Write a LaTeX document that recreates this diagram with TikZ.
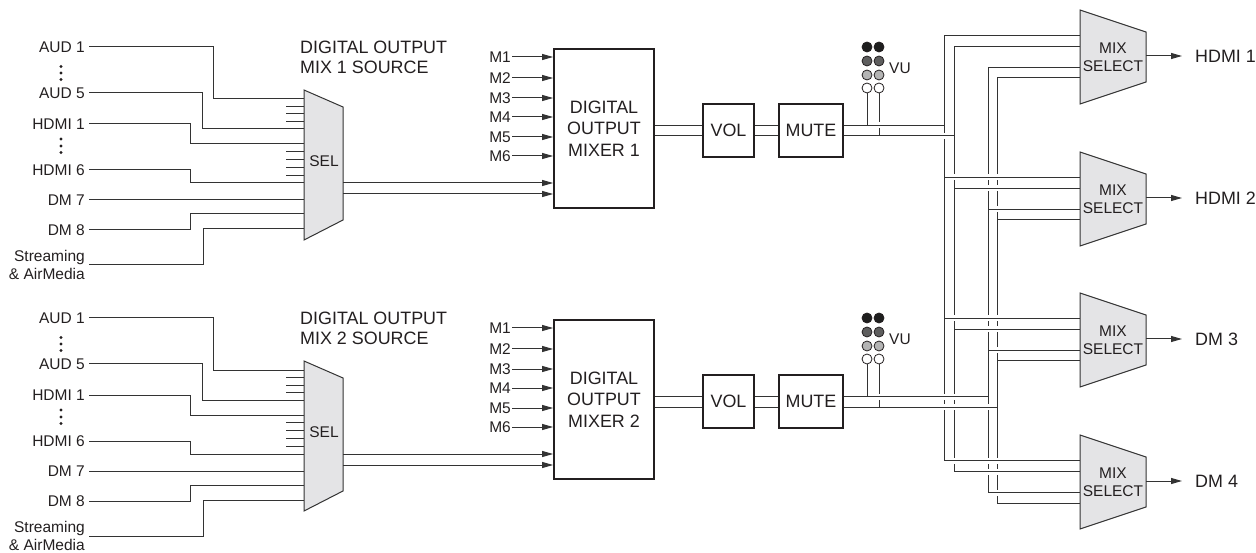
\documentclass[tikz,border=0pt]{standalone}
\usepackage{fontspec}
\setmainfont{Liberation Sans}
\usetikzlibrary{arrows.meta}
\definecolor{ink}{HTML}{231F20}
\definecolor{wirec}{HTML}{333333}
\definecolor{selfill}{HTML}{E4E4E6}
\definecolor{vudark}{HTML}{1E1E1E}
\definecolor{vumid}{HTML}{5E5E5E}
\definecolor{vulight}{HTML}{B4B4B4}
\tikzset{
  smalltext/.style={font=\fontsize{15.5}{18}\selectfont, text=ink},
  bigtext/.style={font=\fontsize{17.9}{21.5}\selectfont, text=ink},
  lbl/.style={smalltext, inner xsep=4pt, inner ysep=0pt},
  mlbl/.style={smalltext, inner xsep=1pt, inner ysep=0pt, anchor=east},
  wire/.style={draw=wirec, line width=1pt},
  bridge/.style={draw=white, line width=6pt},
  arr/.style={wire, -{Triangle[length=11pt,width=6pt]}},
  blockbox/.style={draw=ink, line width=1.8pt, bigtext, align=center, inner sep=0pt},
  trap/.style={draw=wirec, line width=1pt, fill=selfill},
  vudot/.style={circle, draw=ink, line width=0.8pt, minimum size=10pt, inner sep=0pt},
}

% #1 index, #2 y offset, #3 bus x for line a, #4 bus x for line b
\newcommand{\mixhalf}[4]{%
\begin{scope}[shift={(0,#2)}]
  % titles
  \node[bigtext, anchor=west, inner sep=0pt] (title-#1) at (300,47) {DIGITAL OUTPUT};
  \node[bigtext, anchor=west, inner sep=0pt] (subtitle-#1) at (300,67) {MIX #1 SOURCE};
  % source labels
  \node[lbl, anchor=east] (aud1-#1) at (89,47) {AUD 1};
  \node[lbl, anchor=east] (aud5-#1) at (89,93) {AUD 5};
  \node[lbl, anchor=east] (hdmi1-#1) at (89,124) {HDMI 1};
  \node[lbl, anchor=east] (hdmi6-#1) at (89,170) {HDMI 6};
  \node[lbl, anchor=east] (dm7-#1) at (89,200) {DM 7};
  \node[lbl, anchor=east] (dm8-#1) at (89,230) {DM 8};
  \node[lbl, anchor=east, align=right] (strm-#1) at (89,265) {Streaming\\\& AirMedia};
  \foreach \yy in {66.5,73,79.5,139,146,152.5} \fill[ink] (61,\yy) circle (1.7);
  % selector
  \draw[trap] (304,90) -- (343,107) -- (343,220) -- (304,240) -- cycle;
  \node[smalltext] (sel-#1) at (324,161) {SEL};
  \coordinate (inA-#1) at (304,99);
  \coordinate (inB-#1) at (304,129);
  \coordinate (inC-#1) at (304,144);
  \coordinate (inD-#1) at (304,183);
  \coordinate (inE-#1) at (304,200);
  \coordinate (inF-#1) at (304,214);
  \coordinate (inG-#1) at (304,229);
  \draw[wire] (aud1-#1.east) -- ++(124,0) |- (inA-#1);
  \draw[wire] (aud5-#1.east) -- ++(113,0) |- (inB-#1);
  \draw[wire] (hdmi1-#1.east) -- ++(101,0) |- (inC-#1);
  \draw[wire] (hdmi6-#1.east) -- ++(101,0) |- (inD-#1);
  \draw[wire] (dm7-#1.east) -- (inE-#1);
  \draw[wire] (dm8-#1.east) -- ++(101,0) |- (inF-#1);
  \draw[wire] (strm-#1.east) -- ++(114,0) |- (inG-#1);
  \foreach \yy in {106.5,114,121.5,151.8,159.6,167.4,175.2} \draw[wire] (286,\yy) -- (304,\yy);
  % mixer
  \node[blockbox, minimum width=100pt, minimum height=159pt] (mixer-#1) at (604,128.5) {DIGITAL\\OUTPUT\\MIXER #1};
  \coordinate (so1-#1) at (343,183);
  \coordinate (so2-#1) at (343,194);
  \draw[arr] (so1-#1) -- (so1-#1 -| mixer-#1.west);
  \draw[arr] (so2-#1) -- (so2-#1 -| mixer-#1.west);
  \foreach \k/\yy in {1/57,2/78,3/98,4/117,5/137,6/156} {
    \node[mlbl] (m\k-#1) at (512,\yy) {M\k};
    \draw[arr] (m\k-#1.east) -- (m\k-#1.east -| mixer-#1.west);
  }
  % vol & mute
  \node[blockbox, minimum width=51pt, minimum height=53pt] (vol-#1) at (728.5,130.5) {VOL};
  \node[blockbox, minimum width=64pt, minimum height=53pt] (mute-#1) at (811,130.5) {MUTE};
  \coordinate (ya-#1) at (0,125.5);
  \coordinate (yb-#1) at (0,136);
  \draw[wire] (mixer-#1.east |- ya-#1) -- (vol-#1.west |- ya-#1);
  \draw[wire] (mixer-#1.east |- yb-#1) -- (vol-#1.west |- yb-#1);
  \draw[wire] (vol-#1.east |- ya-#1) -- (mute-#1.west |- ya-#1);
  \draw[wire] (vol-#1.east |- yb-#1) -- (mute-#1.west |- yb-#1);
  % VU meter
  \foreach \r/\yy/\c in {1/47/vudark,2/61/vumid,3/75/vulight,4/88/white} {
    \node[vudot, fill=\c] (vu\r a-#1) at (867,\yy) {};
    \node[vudot, fill=\c] (vu\r b-#1) at (879,\yy) {};
  }
  \node[smalltext, anchor=west, inner sep=0pt] (vu-#1) at (889,68) {VU};
  \draw[wire] (vu4a-#1.south) -- (vu4a-#1.south |- ya-#1);
  \draw[wire] (vu4b-#1.south) -- (vu4b-#1.south |- yb-#1);
  % to the bus
  \coordinate (ea-#1) at (#3,125.5);
  \coordinate (eb-#1) at (#4,136);
  \draw[bridge] (873,125.5) -- ({#3-4},125.5);
  \draw[bridge] (885,136) -- ({#4-4},136);
  \draw[wire] (mute-#1.east |- ya-#1) -- (ea-#1);
  \draw[wire] (mute-#1.east |- yb-#1) -- (eb-#1);
\end{scope}}

\begin{document}
\begin{tikzpicture}[x=1pt,y=-1pt]
\useasboundingbox (0,0) rectangle (1256,553);
% bus verticals
\coordinate (busAt) at (944,35.5);  \coordinate (busAb) at (944,460.5);
\coordinate (busBt) at (954,46.5);  \coordinate (busBb) at (954,471.5);
\coordinate (busCt) at (988,67.5);  \coordinate (busCb) at (988,492.5);
\coordinate (busDt) at (997,78);    \coordinate (busDb) at (997,503);
\draw[wire] (busAt) -- (busAb);
\draw[wire] (busBt) -- (busBb);
\draw[wire] (busCt) -- (busCb);
\draw[wire] (busDt) -- (busDb);

\mixhalf{1}{0}{944}{954}
\mixhalf{2}{271}{988}{997}

% mix select blocks
\foreach \k/\cy/\lab in {1/57/HDMI 1,2/199/HDMI 2,3/340/DM 3,4/482/DM 4} {
  \foreach \vx/\dy in {944/-21.5,954/-10.5,988/10.5,997/21} {
    \draw[bridge] ({\vx+4},{\cy+\dy}) -- (1078,{\cy+\dy});
    \draw[wire] (\vx,{\cy+\dy}) -- (1080,{\cy+\dy});
  }
  \draw[trap] (1080,{\cy-47}) -- (1146,{\cy-25}) -- (1146,{\cy+25}) -- (1080,{\cy+47}) -- cycle;
  \node[smalltext, align=center, inner sep=0pt] (mixsel\k) at (1113,\cy) {MIX\\SELECT};
  \coordinate (mo\k) at (1146,{\cy-1});
  \node[bigtext, anchor=west, inner xsep=13pt, inner ysep=0pt] (out\k) at (1182,{\cy-1}) {\lab};
  \draw[arr] (mo\k) -- (out\k.west);
}
\end{tikzpicture}
\end{document}
